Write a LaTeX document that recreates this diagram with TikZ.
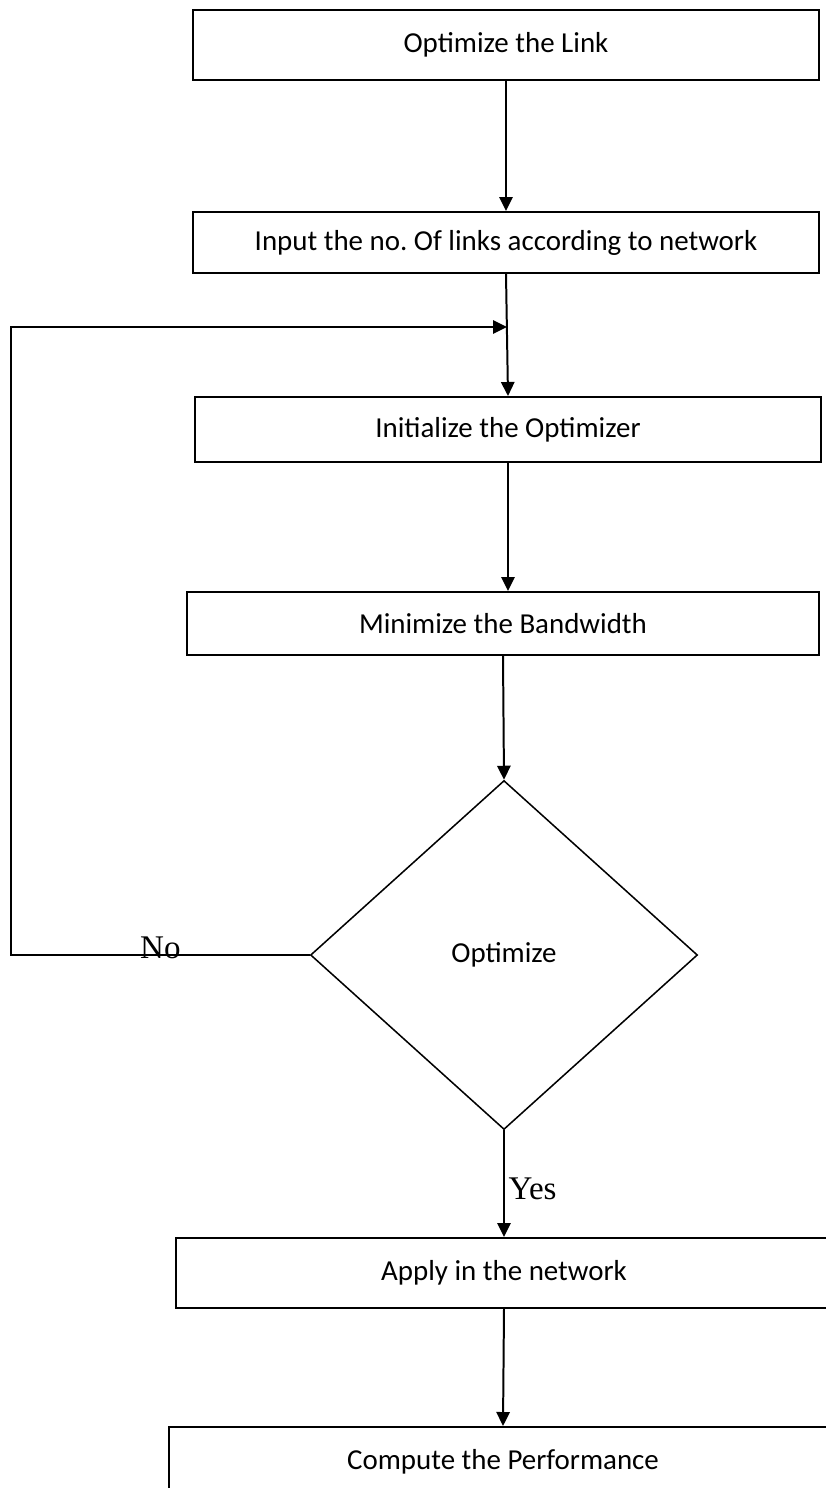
\documentclass[tikz,border=0pt]{standalone}
\usepackage{fontspec}
\setmainfont{Carlito}
\newfontfamily\timesfont{Liberation Serif}
\usepackage{tikz}
\usetikzlibrary{shapes.geometric,arrows.meta,positioning,calc}
\frenchspacing

\begin{document}
\begin{tikzpicture}[
  x=0.3mm, y=-0.3mm,
  font=\fontsize{24.7pt}{29pt}\selectfont,
  proc/.style={rectangle, draw=black, line width=1.7pt, inner sep=0pt,
               minimum width=187.8mm, align=center},
  decide/.style={diamond, draw=black, line width=1.3pt, inner sep=0pt,
                 minimum width=116.1mm, minimum height=104.7mm, align=center},
  lbl/.style={font=\timesfont\fontsize{28.2pt}{32pt}\selectfont, inner sep=0pt},
  arr/.style={-{Triangle[length=4.2mm, width=4mm]}, line width=1.7pt, black},
]
  \useasboundingbox (0,0) rectangle (826,1488);
  \clip (0,0) rectangle (826,1488);

  %% Upper boxes, one under the other
  \node[proc, minimum height=21mm] (link) at (506,45) {Optimize the Link};
  \node[proc, minimum height=18.3mm] (input) at (506,242.5)
       {Input the no. Of links according to network};
  \node[proc, minimum height=19.5mm] (init) at (508,429.5)
       {Initialize the Optimizer};
  \node[proc, minimum width=189.6mm, minimum height=18.9mm] (bw) at (503,623.5)
       {Minimize the Bandwidth};
  %% Decision
  \node[decide] (opt) at (504,955) {\raisebox{-2.5mm}{Optimize}};
  %% Lower boxes run off the right edge
  \node[proc, minimum width=196.8mm, minimum height=21mm] (apply) at (504,1273)
       {Apply in the network};
  \node[proc, minimum width=200.4mm, minimum height=21mm] (perf) at (503,1462)
       {Compute the Performance};

  %% Loop back point
  \coordinate (back) at (11,327);
  \coordinate (join) at (507,327);

  \draw[arr] (link.south)  -- (input.north);
  \draw[arr] (input.south) -- (init.north);
  \draw[arr] (init.south)  -- (init.south |- bw.north);
  \draw[arr] (bw.south)    -- (opt.north);
  \draw[arr] (opt.west) -| node[lbl, pos=0.25, anchor=base, yshift=-1mm] (no) {No} (back) -- (join);
  \draw[arr] (opt.south)   -- node[lbl, pos=0.55, right=3pt] (yes) {Yes} (apply.north);
  \draw[arr] (apply.south) -- (perf.north);
\end{tikzpicture}
\end{document}
